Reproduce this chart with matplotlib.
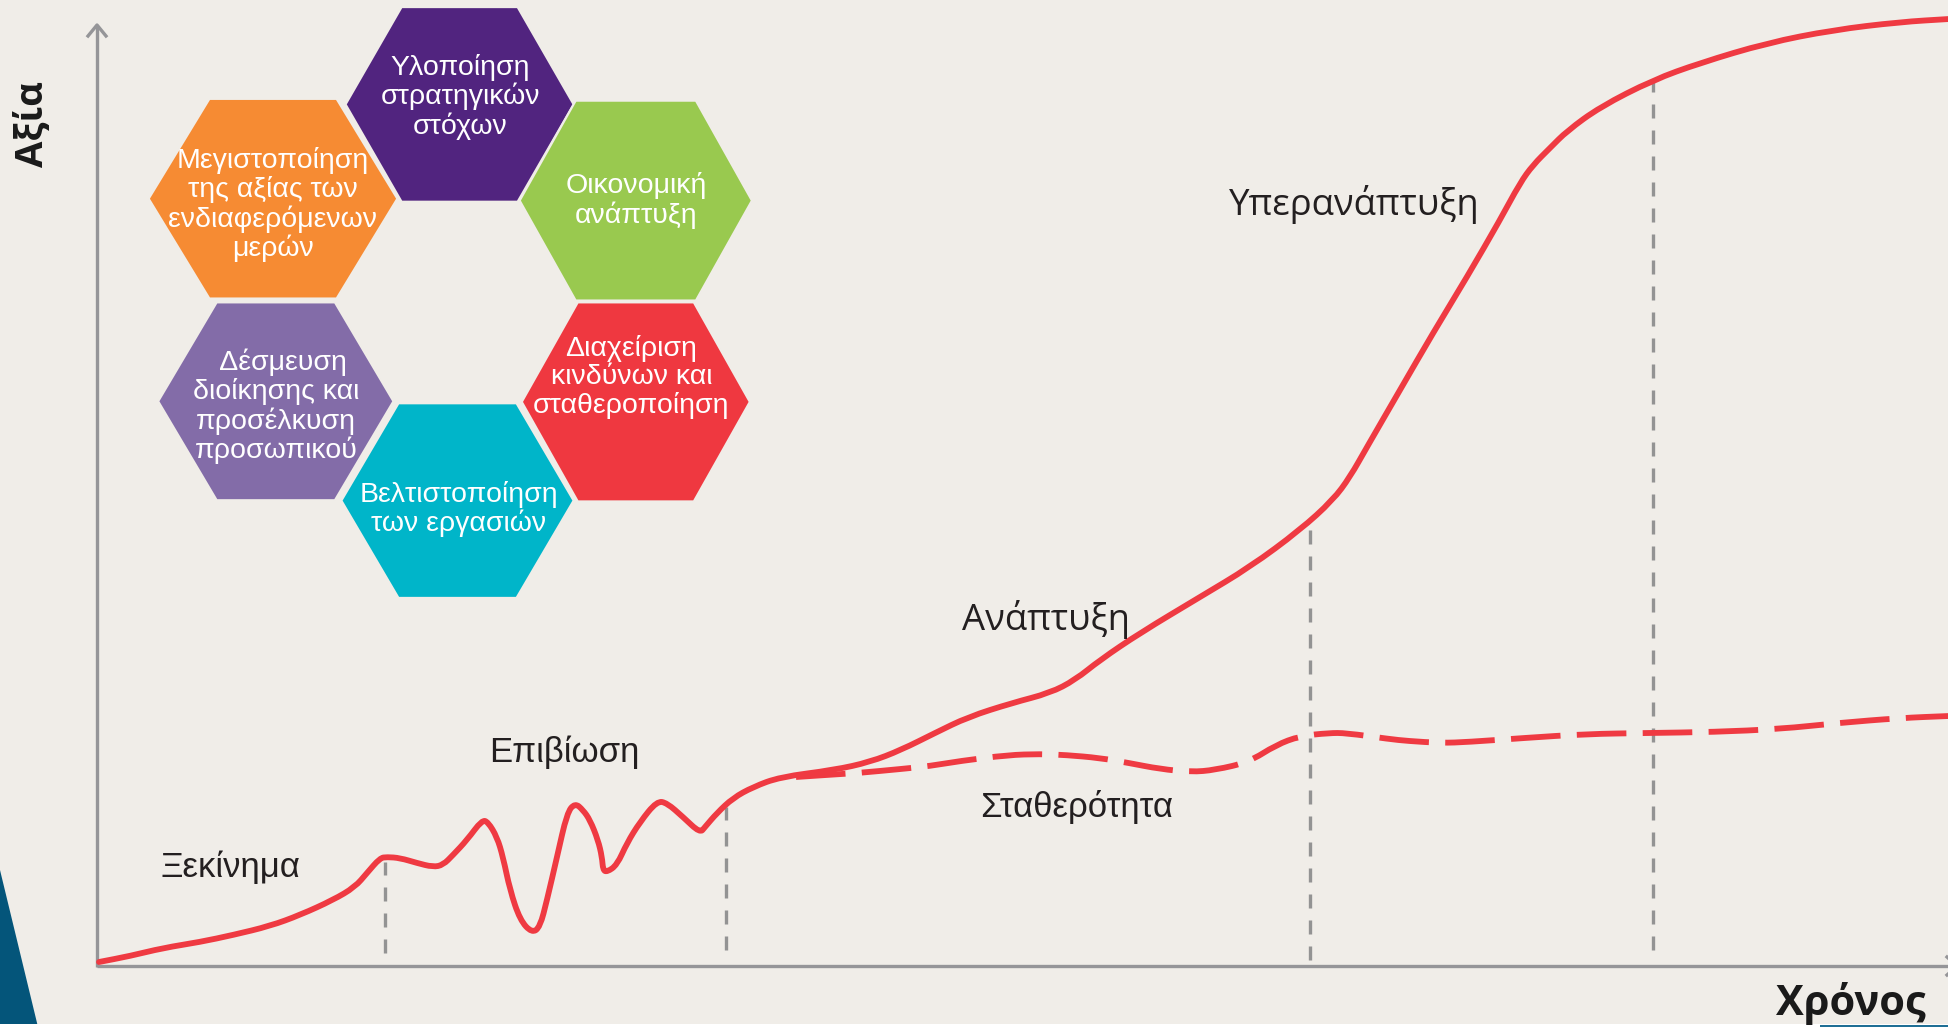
import matplotlib
matplotlib.use("Agg")
import matplotlib.pyplot as plt
from matplotlib.path import Path
from matplotlib.patches import PathPatch

# ---------------- data (time t, value v) ----------------
main_t = [2, 33, 66, 103, 136, 173, 203, 236, 258, 270, 283, 290, 303, 320, 336, 346, 356, 370,
          385, 391, 400, 406, 413, 423, 435, 443, 450, 460, 470, 478, 486, 493, 501, 505, 506,
          510, 520, 530, 543, 560, 570, 586, 603, 608, 620, 636, 656, 683, 737, 773, 804, 838,
          871, 915, 953, 978, 1003, 1043, 1103, 1153, 1203, 1236, 1253, 1270, 1303, 1336, 1370,
          1403, 1423, 1436, 1453, 1470, 1503, 1556, 1603, 1670, 1736, 1803, 1852]
main_v = [4, 10, 18, 24, 31, 40, 51, 66, 79, 93, 108, 109, 108, 103, 99, 101, 111, 126,
          146, 144, 129, 109, 76, 46, 33, 39, 66, 109, 153, 163, 156, 146, 126, 109, 96,
          94, 101, 123, 144, 165, 163, 149, 133, 139, 153, 168, 179, 189, 196, 204, 216, 233,
          249, 263, 273, 286, 306, 333, 369, 399, 436, 466, 489, 519, 576, 633, 689,
          746, 783, 801, 818, 835, 859, 886, 903, 923, 936, 944, 947]

stable_t = [699, 744, 761, 804, 833, 863, 911, 943, 969, 1003, 1032, 1063, 1094, 1118, 1152,
            1179, 1203, 1232, 1249, 1292, 1311, 1344, 1371, 1427, 1489, 1551, 1617, 1683,
            1741, 1803, 1852]
stable_v = [189, 192, 193, 197, 200, 205, 211, 212, 211, 208, 203, 197, 194, 196, 204,
            221, 230, 233, 233, 227, 225, 223, 224, 228, 232, 233, 234, 237,
            243, 248, 250]

boundary_t = [288, 629, 1213, 1556]
boundary_top = [104, 159, 436, 886]
boundary_bottom = [13, 16, 6, 16]

stage_labels = ["Ξεκίνημα", "Επιβίωση", "Ανάπτυξη", "Υπερανάπτυξη", "Σταθερότητα"]
stage_label_t = [133, 467, 949, 1257, 980]
stage_label_v = [89, 204, 336, 751, 149]

hex_texts = ["Υλοποίηση\nστρατηγικών\nστόχων",
             "Μεγιστοποίηση\nτης αξίας των\nενδιαφερόμενων\nμερών",
             "Οικονομική\nανάπτυξη",
             "Διαχείριση\nκινδύνων και\nσταθεροποίηση",
             "Βελτιστοποίηση\nτων εργασιών",
             "  Δέσμευση\nδιοίκησης και\nπροσέλκυση\nπροσωπικού"]
hex_colors = ["#51247f", "#f68b33", "#99c94f", "#ef3840", "#00b5c9", "#836ca8"]
hex_cx = [362.6, 176, 538.8, 538.8, 360.5, 178.8]
hex_cy = [861.6, 767.3, 765.4, 564.1, 465.4, 564.7]
hex_hw = [114, 124.3, 116.1, 114, 116.1, 117.6]
hex_he = [58, 63.6, 60.1, 58, 59, 59.1]
hex_hh = [97.3, 99.8, 99.9, 99.5, 97.3, 98.9]
hex_text_t = [363.6, 176, 539.5, 534.5, 362, 179]
hex_text_v = [869, 761.3, 765.3, 589, 457, 559.7]

BG = "#f0ede8"
RED = "#ef3a42"
AXIS = "#959598"


def smooth_path(ts, vs):
    """Quadratic-Bezier path using the read points as control points."""
    pts = list(zip(ts, vs))
    verts = [pts[0], ((pts[0][0] + pts[1][0]) / 2, (pts[0][1] + pts[1][1]) / 2)]
    codes = [Path.MOVETO, Path.LINETO]
    for i in range(1, len(pts) - 1):
        mid = ((pts[i][0] + pts[i + 1][0]) / 2, (pts[i][1] + pts[i + 1][1]) / 2)
        verts += [pts[i], mid]
        codes += [Path.CURVE3, Path.CURVE3]
    verts.append(pts[-1])
    codes.append(Path.LINETO)
    return Path(verts, codes)


fig = plt.figure(figsize=(19.49, 10.27), dpi=100, facecolor=BG)
ax = fig.add_axes([0, 0, 1, 1])
ax.set_facecolor(BG)
ax.set_xlim(-97, 1852)
ax.set_ylim(-61, 966)
ax.axis("off")

# decorative corner shapes
ax.fill([-97, -59, -97], [96, -61, -61], color="#04557a", lw=0, zorder=1)
ax.fill([-97, 1852, 1852, -97], [-61, -61, -58, -58], color="white", lw=0, zorder=1)
ax.fill([1723, 1852, 1852, 1723], [-61, -61, -59, -59], color="#1f6f95", lw=0, zorder=2)

# axes lines with open arrowheads
ax.plot([0, 0], [-1, 940], color=AXIS, lw=2.4, solid_capstyle="butt", zorder=3)
ax.plot([-9, 0, 9], [930, 941, 930], color=AXIS, lw=2.4, zorder=3)
ax.plot([0, 1860], [0, 0], color=AXIS, lw=2.4, solid_capstyle="butt", zorder=3)
ax.plot([1850, 1860, 1850], [9, 0, -9], color=AXIS, lw=2.4, zorder=3)

# stage boundaries
for t, top, bot in zip(boundary_t, boundary_top, boundary_bottom):
    ax.plot([t, t], [bot, top], color="#939393", lw=2.4,
            linestyle=(0, (4.2, 3.6)), zorder=2)

# curves
ax.add_patch(PathPatch(smooth_path(stable_t, stable_v), fill=False, ec=RED, lw=4.2,
                       linestyle=(0, (8.5, 2.8)), zorder=4))
ax.add_patch(PathPatch(smooth_path(main_t, main_v), fill=False, ec=RED, lw=4.2,
                       joinstyle="round", capstyle="round", zorder=5))

# stage labels
arial = ["Liberation Sans", "DejaVu Sans"]
opens = ["Open Sans", "DejaVu Sans"]
for lab, t, v in zip(stage_labels, stage_label_t, stage_label_v):
    if lab in ("Ανάπτυξη", "Υπερανάπτυξη"):
        fam, fs = opens, 26.3
    else:
        fam, fs = arial, 25
    ax.text(t, v, lab, ha="center", va="baseline", fontsize=fs,
            family=fam, color="#231f20", zorder=6)

ax.text(1754, -49, "Χρόνος", ha="center", va="baseline", fontsize=30,
        family=opens, fontweight="bold", color="#1a1a1a", zorder=6)
ax.text(-64, 842, "Αξία", ha="center", va="center", fontsize=27.5, rotation=90,
        family=opens, fontweight="bold", color="#1a1a1a", zorder=6)

# hexagons
for cx, cy, hw, he, hh, col in zip(hex_cx, hex_cy, hex_hw, hex_he, hex_hh, hex_colors):
    xs = [cx - he, cx + he, cx + hw, cx + he, cx - he, cx - hw]
    ys = [cy + hh, cy + hh, cy, cy - hh, cy - hh, cy]
    ax.fill(xs, ys, color=col, ec=BG, lw=1.5, zorder=6)

for txt, t, v in zip(hex_texts, hex_text_t, hex_text_v):
    ax.text(t, v, txt, ha="center", va="center", multialignment="center",
            fontsize=20.5, family=arial, color="white", linespacing=1.1, zorder=7)

fig.savefig("out.png", dpi=100, facecolor=BG)
